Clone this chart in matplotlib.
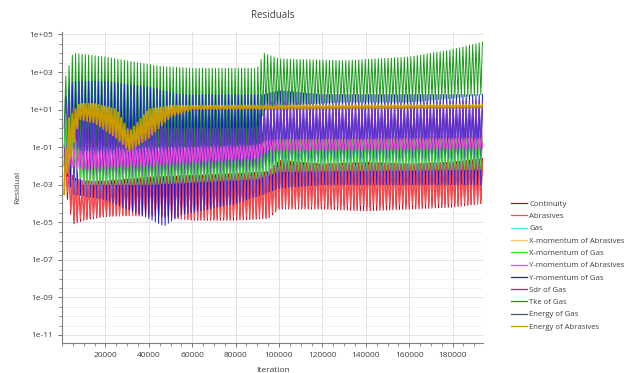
import numpy as np
import matplotlib.pyplot as plt
from matplotlib.ticker import FixedLocator, MultipleLocator, LogLocator, NullFormatter

plt.rcParams['font.family'] = ['Open Sans', 'DejaVu Sans']

# solver restarts roughly every CYCLE iterations; each residual swings between
# a trough envelope and a peak envelope (log10 values read at knot iterations)
CYCLE = 1500
X_END = 194000

names = ["Continuity", "Abrasives", "Gas", "X-momentum of Abrasives",
         "X-momentum of Gas", "Y-momentum of Abrasives", "Y-momentum of Gas",
         "Sdr of Gas", "Tke of Gas", "Energy of Gas", "Energy of Abrasives"]
colors = ["#c00018", "#ff4a4a", "#50e8e8", "#ffc860", "#40dd30", "#ff40d8",
          "#1a1ad8", "#7a30cc", "#189a18", "#405868", "#c89a00"]
# stacking order of the traces
layer = [2, 2, 2, 2, 5, 5, 3, 4, 1, 0, 7]

continuity_knots = [1000, 5000, 10000, 20000, 40000, 60000, 80000, 95000, 100000, 120000, 140000, 160000, 180000, 194000]
continuity_lo = [-3.0, -5.1, -4.9, -4.7, -4.6, -4.9, -4.9, -4.8, -4.3, -4.3, -4.4, -4.3, -4.2, -4.0]
continuity_hi = [-1.0, -2.6, -2.8, -2.8, -2.6, -2.5, -2.4, -2.3, -1.7, -1.9, -1.8, -1.9, -1.8, -1.6]

abrasives_knots = [1000, 5000, 20000, 60000, 95000, 100000, 194000]
abrasives_lo = [-2.5, -4.9, -4.6, -4.8, -4.7, -4.2, -4.0]
abrasives_hi = [-1.2, -2.8, -3.0, -2.7, -2.5, -2.0, -1.9]

gas_knots = [1000, 5000, 20000, 95000, 194000]
gas_lo = [-1.0, -1.5, -2.0, -2.0, -1.5]
gas_hi = [0.6, 0.0, -0.8, -0.9, -0.7]

xmom_abr_knots = [1000, 20000, 194000]
xmom_abr_lo = [-2.0, -1.8, -1.5]
xmom_abr_hi = [-0.5, -0.6, -0.4]

xmom_gas_knots = [1000, 10000, 40000, 90000, 100000, 194000]
xmom_gas_lo = [-1.0, -3.0, -3.0, -2.7, -2.3, -2.2]
xmom_gas_hi = [1.0, -1.8, -1.8, -1.6, -0.6, -0.6]

ymom_abr_knots = [2000, 10000, 40000, 90000, 95000, 194000]
ymom_abr_lo = [-2.0, -2.2, -2.0, -1.6, -1.2, -1.1]
ymom_abr_hi = [-1.0, -1.2, -1.1, -0.9, -0.6, -0.5]

ymom_gas_knots = [1000, 5000, 20000, 40000, 47000, 55000, 80000, 93000, 100000, 120000, 150000, 194000]
ymom_gas_lo = [-2.0, -3.5, -3.8, -4.8, -5.2, -4.6, -4.0, -3.5, -3.2, -3.0, -3.0, -3.0]
ymom_gas_hi = [1.5, 2.5, 2.5, 2.2, 2.0, 1.8, 1.8, 1.8, 2.0, 1.8, 1.8, 1.8]

sdr_knots = [1000, 10000, 30000, 60000, 90000, 95000, 120000, 160000, 194000]
sdr_lo = [-1.5, -3.0, -3.0, -2.8, -2.5, -1.5, -1.2, -1.2, -1.0]
sdr_hi = [1.5, 0.5, 0.0, 0.0, 0.0, 1.4, 1.3, 1.3, 1.5]

tke_knots = [1000, 5000, 20000, 45000, 60000, 90000, 93000, 100000, 130000, 160000, 180000, 194000]
tke_lo = [0.0, -1.0, -1.0, -1.0, -1.0, -1.0, 1.0, 1.2, 1.4, 1.4, 1.6, 1.8]
tke_hi = [2.5, 4.0, 3.8, 3.3, 3.2, 3.2, 4.0, 3.7, 3.6, 3.8, 4.2, 4.6]

energy_gas_knots = [1000, 95000, 194000]
energy_gas_lo = [-1.0, -0.8, -0.6]
energy_gas_hi = [0.5, 0.8, 1.0]

energy_abr_knots = [1000, 3000, 8000, 15000, 25000, 31000, 40000, 50000, 60000, 194000]
energy_abr_lo = [-3.5, -2.0, 0.5, 0.3, -0.5, -1.2, -0.5, 0.6, 1.0, 1.1]
energy_abr_hi = [-2.0, 0.5, 1.3, 1.3, 1.0, -0.2, 1.0, 1.2, 1.2, 1.25]

envelopes = [
    (continuity_knots, continuity_lo, continuity_hi),
    (abrasives_knots, abrasives_lo, abrasives_hi),
    (gas_knots, gas_lo, gas_hi),
    (xmom_abr_knots, xmom_abr_lo, xmom_abr_hi),
    (xmom_gas_knots, xmom_gas_lo, xmom_gas_hi),
    (ymom_abr_knots, ymom_abr_lo, ymom_abr_hi),
    (ymom_gas_knots, ymom_gas_lo, ymom_gas_hi),
    (sdr_knots, sdr_lo, sdr_hi),
    (tke_knots, tke_lo, tke_hi),
    (energy_gas_knots, energy_gas_lo, energy_gas_hi),
    (energy_abr_knots, energy_abr_lo, energy_abr_hi),
]


def zigzag(knots, lo, hi):
    # trough and peak alternate every half cycle
    it = np.arange(knots[0], X_END + 1, CYCLE / 2)
    low = np.interp(it, knots, lo)
    high = np.interp(it, knots, hi)
    y = np.where(np.arange(len(it)) % 2 == 0, low, high)
    return it, 10.0 ** y


fig = plt.figure(figsize=(6.44, 3.73), dpi=100)
ax = fig.add_axes([0.0963, 0.0804, 0.6537, 0.8338])

for name, col, z, (k, lo, hi) in zip(names, colors, layer, envelopes):
    x, y = zigzag(k, lo, hi)
    lw = 1.4 if name == "Energy of Abrasives" else 0.7
    ax.plot(x, y, color=col, lw=lw, label=name, zorder=2 + z * 0.1)

ax.set_yscale('log')
ax.set_xlim(0, X_END)
ax.set_ylim(10 ** -11.43, 10 ** 5.13)

ax.xaxis.set_major_locator(FixedLocator(np.arange(20000, 190000, 20000)))
ax.xaxis.set_minor_locator(MultipleLocator(5000))
ax.yaxis.set_major_locator(FixedLocator([10.0 ** e for e in range(-11, 6, 2)]))
ax.yaxis.set_minor_locator(LogLocator(base=10, subs=(1.0, 3.0), numticks=40))
ax.yaxis.set_minor_formatter(NullFormatter())
ax.set_yticklabels(["1e%+03d" % e for e in range(-11, 6, 2)])

ax.grid(True, which='major', color='#e2e2e2', lw=0.7)
ax.grid(True, which='minor', axis='y', color='#efefef', lw=0.5)
ax.set_axisbelow(True)

for s in ('top', 'right'):
    ax.spines[s].set_visible(False)
for s in ('left', 'bottom'):
    ax.spines[s].set_color('#808080')
    ax.spines[s].set_linewidth(0.8)

ax.tick_params(which='both', labelsize=6, colors='#606060', labelcolor='#404040')
ax.tick_params(which='major', length=3, width=0.6)
ax.tick_params(which='minor', length=2, width=0.5)

ax.set_title("Residuals", fontsize=7, color='#404040', pad=10)
ax.set_ylabel("Residual", fontsize=6, color='#404040', labelpad=6)
ax.set_xlabel("Iteration", fontsize=6, color='#404040', labelpad=6)

leg = fig.legend(loc='upper left', bbox_to_anchor=(0.788, 0.473), frameon=False,
                 fontsize=5.6, handlelength=2.0, handletextpad=0.3,
                 labelspacing=0.62, borderpad=0, labelcolor='#404040')
for h in leg.get_lines():
    h.set_linewidth(0.9)

fig.savefig("out.png", dpi=100)
